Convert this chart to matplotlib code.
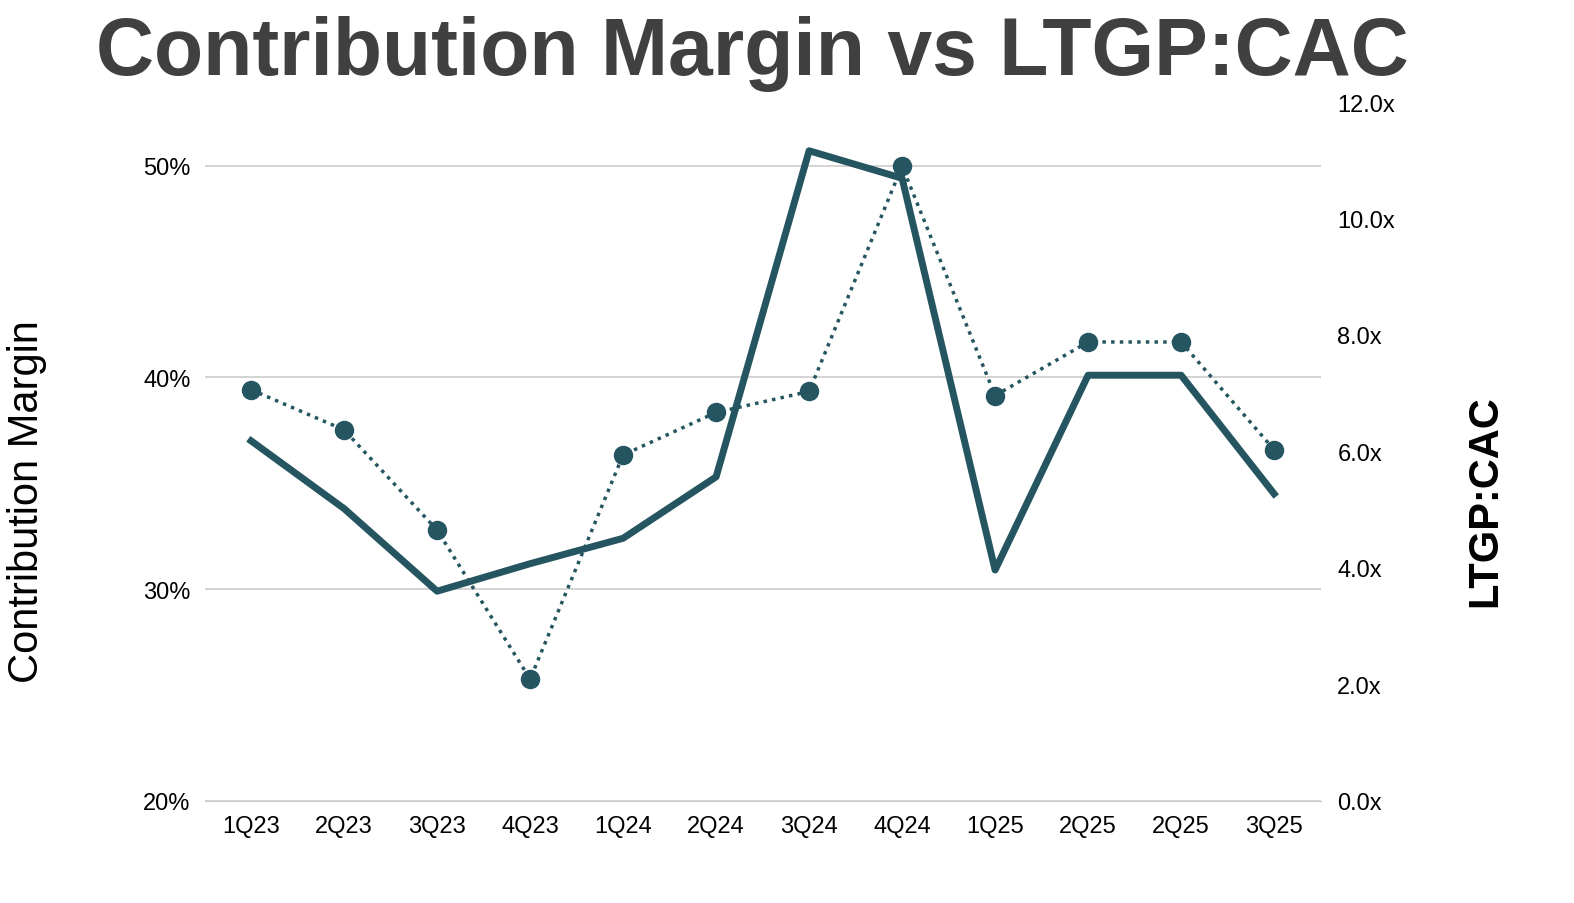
import matplotlib.pyplot as plt
from matplotlib.ticker import FuncFormatter

quarters = ['1Q23', '2Q23', '3Q23', '4Q23', '1Q24', '2Q24', '3Q24', '4Q24',
            '1Q25', '2Q25', '2Q25', '3Q25']
contribution_margin = [37.0, 33.8, 29.9, 31.2, 32.4, 35.3, 50.7, 49.4, 30.9, 40.1, 40.1, 34.5]
ltgp_cac = [7.06, 6.37, 4.65, 2.09, 5.94, 6.67, 7.03, 10.9, 6.96, 7.88, 7.88, 6.03]

color = '#245560'
plt.rcParams['font.family'] = ['Liberation Sans', 'DejaVu Sans']

fig = plt.figure(figsize=(15.74, 9.04), dpi=100)
ax = fig.add_axes([0.130, 0.113, 0.709, 0.773])
x = range(len(quarters))

ax.plot(x, contribution_margin, color=color, linewidth=5)
ax.set_xlim(-0.5, len(quarters) - 0.5)
ax.set_ylim(20, 53.0)
ax.set_yticks([20, 30, 40, 50])
ax.yaxis.set_major_formatter(FuncFormatter(lambda v, p: f'{v:.0f}%'))
ax.set_xticks(list(x))
ax.set_xticklabels(quarters)
ax.grid(axis='y', color='#cccccc', linewidth=1.2)
ax.set_axisbelow(True)
for s in ['top', 'right', 'left']:
    ax.spines[s].set_visible(False)
ax.spines['bottom'].set_color('#cccccc')
ax.tick_params(length=0, labelsize=17, pad=10)
ax.set_ylabel('Contribution Margin', fontsize=30)
ax.yaxis.set_label_coords(-0.141, 0.43)

ax2 = ax.twinx()
ax2.plot(x, ltgp_cac, color=color, linewidth=2.5, linestyle=(0, (1, 1.5)),
         marker='o', markersize=13)
ax2.set_ylim(0, 12)
ax2.set_yticks([0, 2, 4, 6, 8, 10, 12])
ax2.yaxis.set_major_formatter(FuncFormatter(lambda v, p: f'{v:.1f}x'))
for s in ax2.spines.values():
    s.set_visible(False)
ax2.tick_params(length=0, labelsize=17, pad=12)
ax2.set_ylabel('LTGP:CAC', fontsize=30, fontweight='bold')
ax2.yaxis.set_label_coords(1.13, 0.43)

fig.text(0.478, 0.94, 'Contribution Margin vs LTGP:CAC', ha='center', va='center',
         fontsize=58, fontweight='bold', color='#404040')

fig.savefig('out.png', dpi=100)
